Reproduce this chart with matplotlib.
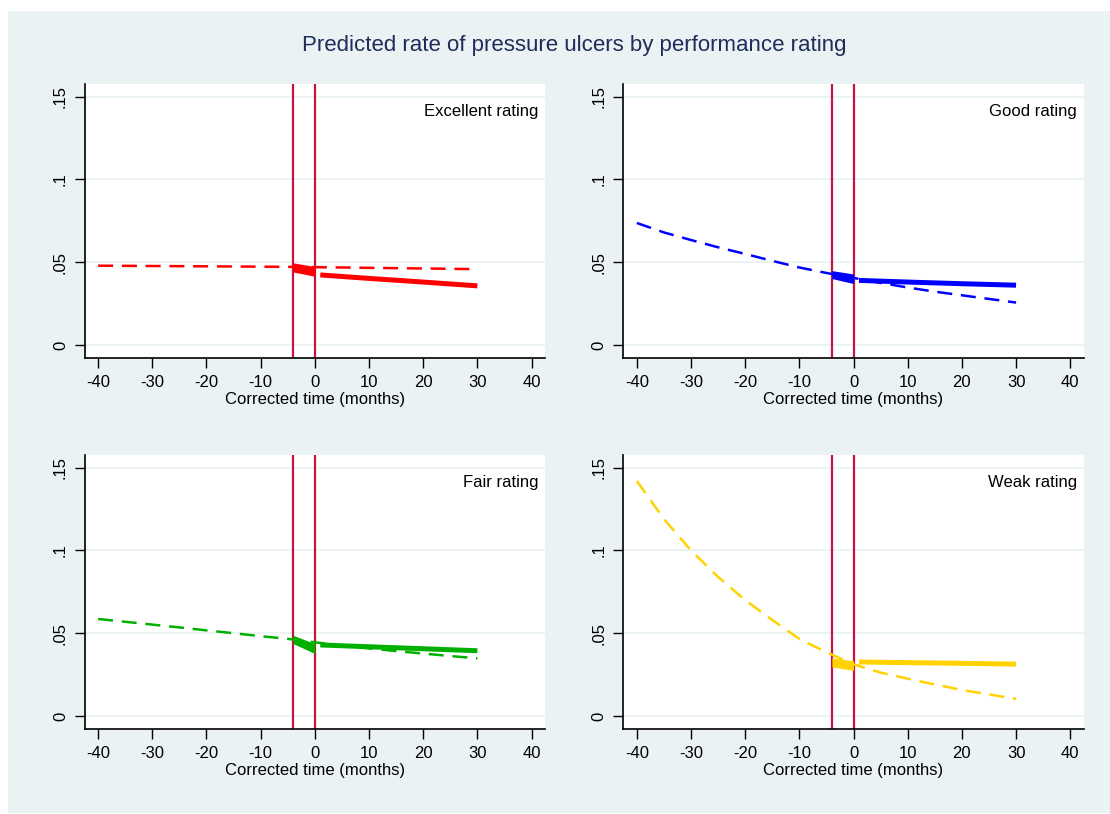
import matplotlib.pyplot as plt
from matplotlib.patches import Rectangle

plt.rcParams['font.family'] = ['Liberation Sans', 'DejaVu Sans']

# counterfactual (dashed) trend, read every 5 months
months = [-40, -35, -30, -25, -20, -15, -10, -5, 0, 5, 10, 15, 20, 25, 30]
excellent_cf = [0.0479, 0.0478, 0.0477, 0.0476, 0.0475, 0.0474, 0.0473, 0.0472,
                0.0470, 0.0468, 0.0466, 0.0464, 0.0462, 0.0460, 0.0458]
good_cf = [0.0737, 0.0680, 0.0634, 0.0590, 0.0550, 0.0508, 0.0468, 0.0435,
           0.0405, 0.0375, 0.0347, 0.0322, 0.0300, 0.0278, 0.0256]
fair_cf = [0.0586, 0.0569, 0.0552, 0.0535, 0.0517, 0.0500, 0.0482, 0.0466,
           0.0445, 0.0425, 0.0408, 0.0392, 0.0377, 0.0362, 0.0348]
weak_cf = [0.1420, 0.1190, 0.1000, 0.0840, 0.0700, 0.0580, 0.0465, 0.0385,
           0.0312, 0.0262, 0.0225, 0.0190, 0.0157, 0.0130, 0.0103]

# transition window (-4 to 0), band of predictions
trans_x = [-4, 0]
excellent_hi = [0.0496, 0.0474]
excellent_lo = [0.0441, 0.0415]
good_hi = [0.0449, 0.0429]
good_lo = [0.0401, 0.0371]
fair_hi = [0.0487, 0.0437]
fair_lo = [0.0437, 0.0377]
weak_hi = [0.0351, 0.0334]
weak_lo = [0.0296, 0.0276]

# post-period predicted rate (solid)
post_x = [1, 10, 20, 30]
excellent_post = [0.0423, 0.0402, 0.0380, 0.0357]
good_post = [0.0390, 0.0380, 0.0370, 0.0361]
fair_post = [0.0429, 0.0418, 0.0406, 0.0394]
weak_post = [0.0326, 0.0322, 0.0318, 0.0313]

panels = [
    ("Excellent rating", "#ff0000", excellent_cf, excellent_hi, excellent_lo, excellent_post),
    ("Good rating", "#0000ff", good_cf, good_hi, good_lo, good_post),
    ("Fair rating", "#00b000", fair_cf, fair_hi, fair_lo, fair_post),
    ("Weak rating", "#ffd200", weak_cf, weak_hi, weak_lo, weak_post),
]

xticks = [-40, -30, -20, -10, 0, 10, 20, 30, 40]
yticks = [0, 0.05, 0.1, 0.15]
ylabels = ["0", ".05", ".1", ".15"]
events = [-4, 0]

W, H = 1110, 814
fig = plt.figure(figsize=(W / 100, H / 100), dpi=100)
fig.patch.set_facecolor("white")
fig.patches.append(Rectangle((8 / W, 1 / H), 1102 / W, 802 / H, transform=fig.transFigure,
                             facecolor="#eaf2f3", edgecolor="none", zorder=-5))

fig.text(0.517, 1 - 46 / H, "Predicted rate of pressure ulcers by performance rating",
         ha="center", va="center", fontsize=16, color="#1e2d5a")

lefts = [84.6, 623.3]
bottoms = [358, 729]
pw, ph = 460.5, 274

for i, (name, col, cf, hi, lo, post) in enumerate(panels):
    l = lefts[i % 2]
    b = bottoms[i // 2]
    ax = fig.add_axes([l / W, (H - b) / H, pw / W, ph / H])
    ax.set_facecolor("white")
    ax.set_xlim(-42.5, 42.5)
    ax.set_ylim(-0.0079, 0.1577)
    for yv in yticks:
        ax.axhline(yv, color="#eaf2f3", lw=1.3, zorder=1)
    for ev in events:
        ax.axvline(ev, color="#c8143c", lw=1.6, zorder=2)
    dl, = ax.plot(months, cf, color=col, lw=1.8, zorder=3)
    dl.set_dashes([6, 3.5])
    ax.fill_between(trans_x, lo, hi, color=col, lw=0, zorder=4)
    ax.plot(post_x, post, color=col, lw=3.6, solid_capstyle="butt", zorder=4)

    ax.text(0.985, 0.898, name, transform=ax.transAxes, ha="right", va="center", fontsize=12)

    ax.set_xticks(xticks)
    ax.set_xticklabels([str(t) for t in xticks])
    ax.set_yticks(yticks)
    ax.set_yticklabels(ylabels, rotation=90, va="center")
    ax.tick_params(axis="both", direction="out", length=7, width=1, labelsize=12, pad=5)
    ax.set_xlabel("Corrected time (months)", fontsize=12, labelpad=2)
    for s in ["top", "right"]:
        ax.spines[s].set_visible(False)
    for s in ["left", "bottom"]:
        ax.spines[s].set_linewidth(1.2)

fig.savefig("out.png", dpi=100)
